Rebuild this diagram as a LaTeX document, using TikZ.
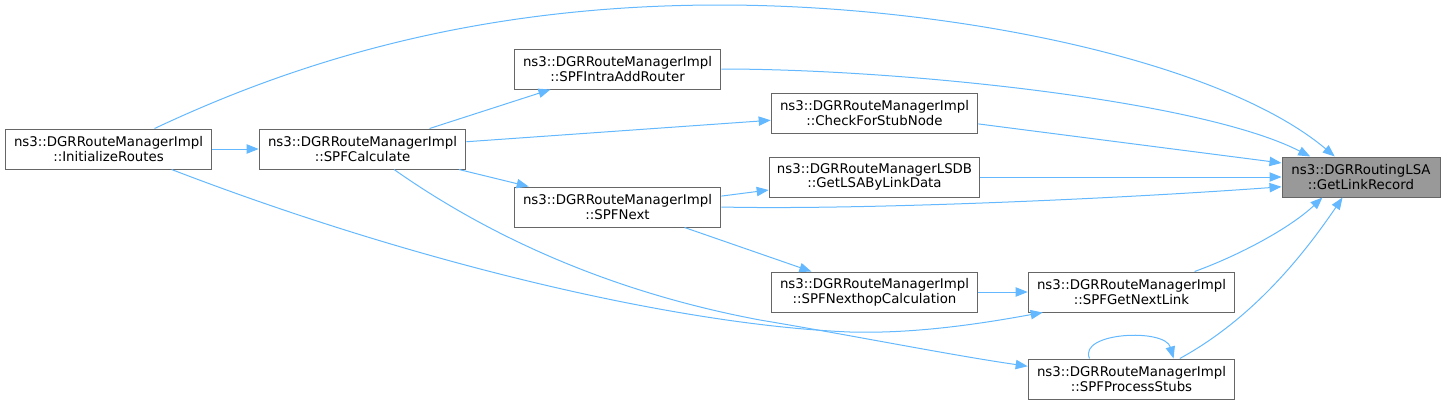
\documentclass[tikz,border=0pt]{standalone}
\usepackage{fontspec}
\setmainfont{DejaVu Sans}
\usetikzlibrary{arrows.meta}
\definecolor{callblue}{HTML}{63B8FF}
\definecolor{boxline}{HTML}{666666}
\definecolor{boxsel}{HTML}{999999}
\tikzset{
  fn/.style = {
    draw           = boxline,
    fill           = white,
    line width     = 0.75pt,
    minimum width  = 155pt,
    minimum height = 30pt,
    inner sep      = 0pt,
    align          = center,
    font           = \fontsize{10}{11}\selectfont
  },
  fnsel/.style = {fn, fill = boxsel, minimum width = 118.5pt},
  call/.style  = {draw = callblue, line width = 0.75pt, -{Triangle[length=9pt,width=7pt]}}
}

\begin{document}
\begin{tikzpicture}[x=0.75pt, y=-0.75pt]
\useasboundingbox (0,0) rectangle (1445,405);

% Functions
\node (init)  at (108.5,149)  [fn] {ns3::DGRRouteManagerImpl\\::InitializeRoutes};
\node (calc)  at (362.5,149)  [fn] {ns3::DGRRouteManagerImpl\\::SPFCalculate};
\node (intra) at (617.5,69)   [fn] {ns3::DGRRouteManagerImpl\\::SPFIntraAddRouter};
\node (next)  at (617.5,207)  [fn] {ns3::DGRRouteManagerImpl\\::SPFNext};
\node (stub)  at (874.5,113)  [fn] {ns3::DGRRouteManagerImpl\\::CheckForStubNode};
\node (lsa)   at (874.5,177)  [fn, minimum width=158pt] {ns3::DGRRouteManagerLSDB\\::GetLSAByLinkData};
\node (hop)   at (874.5,292)  [fn] {ns3::DGRRouteManagerImpl\\::SPFNexthopCalculation};
\node (link)  at (1131.5,292) [fn] {ns3::DGRRouteManagerImpl\\::SPFGetNextLink};
\node (stubs) at (1131.5,379) [fn] {ns3::DGRRouteManagerImpl\\::SPFProcessStubs};
\node (rec)   at (1361,177)   [fnsel] {ns3::DGRRoutingLSA\\::GetLinkRecord};

% Calls from the left column
\draw[call] (init.24.7) .. controls (300,60) and (480,5) .. (720,5)
                        .. controls (950,5) and (1220,60) .. (rec.142.4);
\draw[call] (init.east) -- (calc.west);
\draw[call] (init.-18.9) .. controls (420,265) and (680,325) .. (850,332)
                         .. controls (920,334) and (990,322) .. (link.-167);
\draw[call] (calc.17) -- (intra.-163.5);
\draw[call] (calc.4.4) -- (stub.184.4);
\draw[call] (calc.-12.5) -- (next.167.1);
\draw[call] (calc.-33.3) .. controls (480,230) and (600,290) .. (760,320)
                         .. controls (850,335) and (950,355) .. (stubs.173.4);

% Calls from the middle
\draw[call] (intra.east) .. controls (900,69) and (1200,100) .. (rec.158.6);
\draw[call] (next.6.6) -- (lsa.187);
\draw[call] (next.east) .. controls (850,210) and (1100,200) .. (rec.187.2);
\draw[call] (next.-17.7) -- (hop.162.3);
\draw[call] (stub.-6.6) -- (rec.170);
\draw[call] (lsa.east) -- (rec.west);
\draw[call] (hop.east) -- (link.west);

% Calls from the right column
\draw[call] (link.18.3) .. controls (1240,255) and (1290,228) .. (rec.-152.2);
\draw[call] (stubs.23.3) .. controls (1250,320) and (1300,260) .. (rec.-132);
\draw[call] (stubs.154.3) .. controls (1078,332) and (1165,328) .. (stubs.26.3);
\end{tikzpicture}
\end{document}
